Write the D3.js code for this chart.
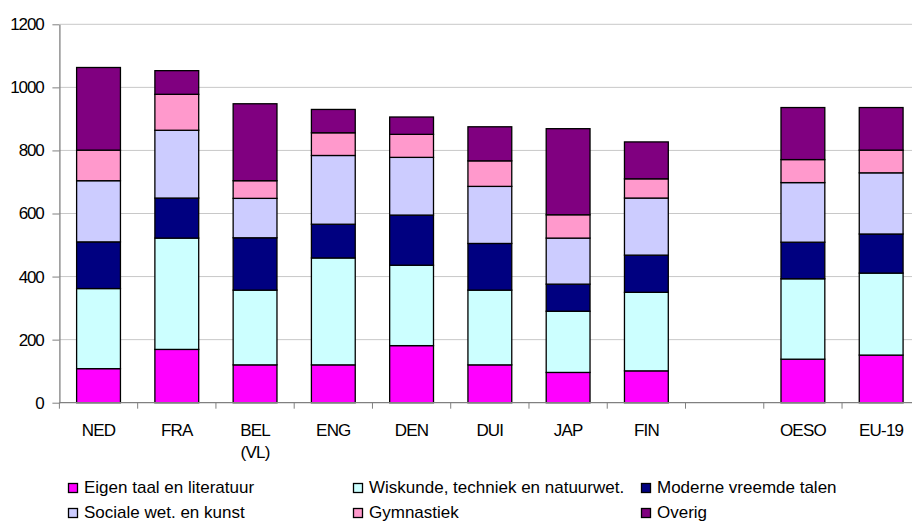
<!DOCTYPE html>
<html>
<head>
<meta charset="utf-8">
<script src="https://cdn.jsdelivr.net/npm/d3@7"></script>
<style>
  body { margin: 0; background: #fff; }
  text { font-family: "Liberation Sans", Arial, sans-serif; fill: #000; }
</style>
</head>
<body>
<script>
// categories (empty slot between FIN and OESO)
var categories = ["NED", "FRA", "BEL (VL)", "ENG", "DEN", "DUI", "JAP", "FIN", "", "OESO", "EU-19"];

// series values (hours)
var eigenTaal   = [108, 169, 120, 120, 181, 120,  96, 101, 0, 138, 151];
var wiskunde    = [254, 353, 237, 339, 255, 237, 194, 249, 0, 255, 260];
var moderne     = [148, 127, 166, 107, 159, 148,  86, 118, 0, 116, 124];
var sociale     = [194, 215, 125, 218, 183, 181, 146, 181, 0, 189, 194];
var gymnastiek  = [ 97, 114,  56,  72,  73,  81,  74,  61, 0,  73,  72];
var overig      = [262,  75, 244,  74,  55, 108, 273, 117, 0, 165, 135];

var seriesNames = ["Eigen taal en literatuur", "Wiskunde, techniek en natuurwet.", "Moderne vreemde talen",
                   "Sociale wet. en kunst", "Gymnastiek", "Overig"];
var seriesColors = ["#FF00FF", "#CCFFFF", "#000080", "#CCCCFF", "#FF99CC", "#800080"];

// tick labels
var yTicks = [0, 200, 400, 600, 800, 1000, 1200];

var width = 912, height = 521;
var plot = {left: 59.4, right: 920.3, top: 24.3, bottom: 402.7};

// build the table for d3.stack
var keys = ["s0", "s1", "s2", "s3", "s4", "s5"];
var allSeries = [eigenTaal, wiskunde, moderne, sociale, gymnastiek, overig];
var table = categories.map(function(c, i) {
  var row = {slot: "c" + i, label: c};
  keys.forEach(function(k, j) { row[k] = allSeries[j][i]; });
  return row;
});

var x = d3.scaleBand()
    .domain(table.map(function(d) { return d.slot; }))
    .range([plot.left, plot.right])
    .padding(0);

var y = d3.scaleLinear()
    .domain([0, 1200])
    .range([plot.bottom, plot.top]);

var color = d3.scaleOrdinal().domain(keys).range(seriesColors);

var svg = d3.select("body").append("svg")
    .attr("width", width)
    .attr("height", height);

// gridlines
svg.append("g")
  .selectAll("line")
  .data(yTicks.filter(function(t) { return t > 0; }))
  .enter().append("line")
    .attr("x1", plot.left)
    .attr("x2", width)
    .attr("y1", function(d) { return y(d); })
    .attr("y2", function(d) { return y(d); })
    .attr("stroke", "#c8c8c8")
    .attr("stroke-width", 1);

// stacked bars
var stack = d3.stack().keys(keys);
var barW = x.bandwidth() * 0.56;

var layers = svg.append("g")
  .selectAll("g")
  .data(stack(table))
  .enter().append("g")
    .attr("fill", function(d) { return color(d.key); });

layers.selectAll("rect")
  .data(function(d) { return d.filter(function(p) { return p.data.label !== ""; }); })
  .enter().append("rect")
    .attr("x", function(d) { return x(d.data.slot) + (x.bandwidth() - barW) / 2; })
    .attr("y", function(d) { return y(d[1]); })
    .attr("width", barW)
    .attr("height", function(d) { return y(d[0]) - y(d[1]); })
    .attr("stroke", "#000")
    .attr("stroke-width", 1.3);

// y axis
var yAxis = svg.append("g")
    .attr("transform", "translate(" + plot.left + ",0)")
    .call(d3.axisLeft(y).tickValues(yTicks).tickFormat(d3.format("d"))
      .tickSize(7).tickPadding(9).tickSizeOuter(0));
yAxis.select(".domain").attr("stroke", "#808080").attr("stroke-width", 1.3);
yAxis.selectAll(".tick line").attr("stroke", "#808080");
yAxis.selectAll("text")
    .style("font-size", "17px")
    .style("letter-spacing", "-1.2px")
    .attr("font-family", null);

// x axis line + boundary ticks
var xAxis = svg.append("g");
xAxis.append("line")
    .attr("x1", plot.left).attr("x2", width)
    .attr("y1", plot.bottom).attr("y2", plot.bottom)
    .attr("stroke", "#808080").attr("stroke-width", 1.3);
xAxis.selectAll(".bt")
  .data(table)
  .enter().append("line")
    .attr("class", "bt")
    .attr("x1", function(d) { return x(d.slot); })
    .attr("x2", function(d) { return x(d.slot); })
    .attr("y1", plot.bottom)
    .attr("y2", plot.bottom + 6)
    .attr("stroke", "#808080");

// category labels
var labels = xAxis.selectAll(".cat")
  .data(table)
  .enter().append("text")
    .attr("class", "cat")
    .attr("text-anchor", "middle")
    .attr("x", function(d) { return x(d.slot) + x.bandwidth() / 2; })
    .attr("y", 436)
    .style("font-size", "17px")
    .style("letter-spacing", "-0.8px");
labels.selectAll("tspan")
  .data(function(d) { return d.label.split(" "); })
  .enter().append("tspan")
    .attr("x", function() { var p = d3.select(this.parentNode).datum(); return x(p.slot) + x.bandwidth() / 2; })
    .attr("dy", function(d, i) { return i === 0 ? 0 : 22; })
    .text(function(d) { return d; });

// legend
var legendCols = [68, 353, 641];
var legendRows = [493, 518];
var legend = svg.append("g")
  .selectAll("g")
  .data(seriesNames)
  .enter().append("g")
    .attr("transform", function(d, i) {
      return "translate(" + legendCols[i % 3] + "," + legendRows[Math.floor(i / 3)] + ")";
    });
legend.append("rect")
    .attr("x", 0.5).attr("y", -9.5)
    .attr("width", 9).attr("height", 9)
    .attr("fill", function(d, i) { return seriesColors[i]; })
    .attr("stroke", "#000").attr("stroke-width", 1.3);
legend.append("text")
    .attr("x", 16)
    .attr("y", 0)
    .style("font-size", "17px")
    .text(function(d) { return d; });
</script>
</body>
</html>
